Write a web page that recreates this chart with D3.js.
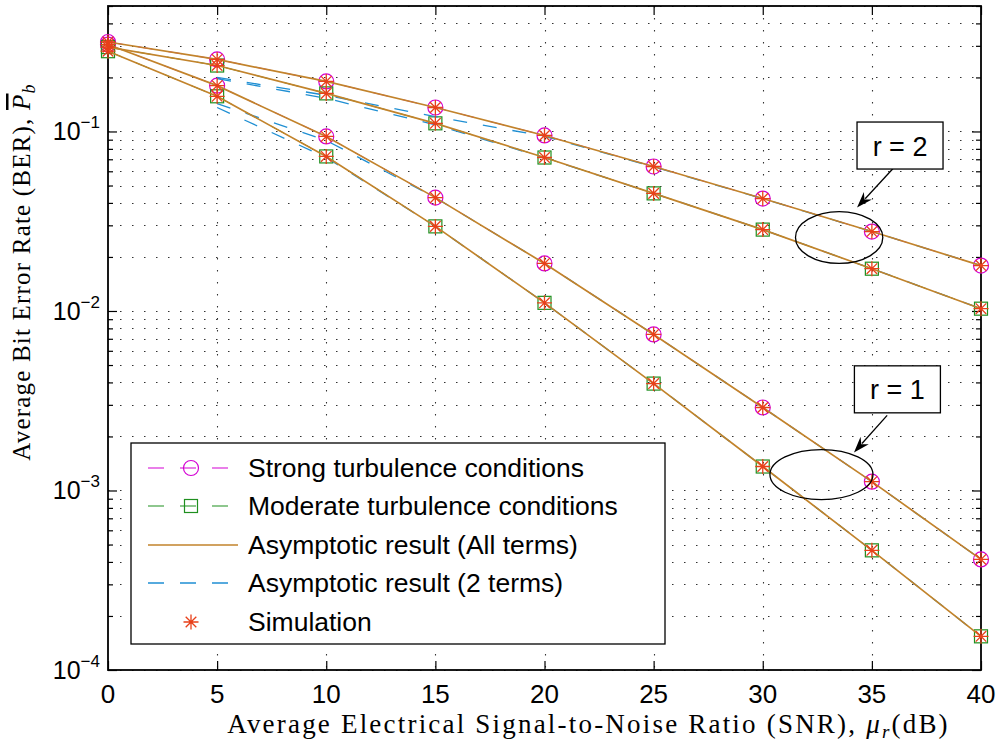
<!DOCTYPE html>
<html><head><meta charset="utf-8">
<script src="https://cdn.jsdelivr.net/npm/d3@7"></script>
<style>body{margin:0;background:#fff}</style>
</head><body>
<svg id="chart" width="1000" height="745"></svg>
<script>
// SNR points (dB)
const snr = [0, 5, 10, 15, 20, 25, 30, 35, 40];
// exact BER, r = 2
const strongR2 = [0.315, 0.252, 0.190, 0.136, 0.095, 0.0638, 0.0423, 0.0277, 0.0179];
const moderateR2 = [0.295, 0.233, 0.163, 0.111, 0.0716, 0.0452, 0.0284, 0.0172, 0.0103];
// exact BER, r = 1
const strongR1 = [0.305, 0.180, 0.0938, 0.0428, 0.0184, 0.0074, 0.0029, 0.00112, 0.000413];
const moderateR1 = [0.28, 0.157, 0.0726, 0.0296, 0.0111, 0.00394, 0.00136, 0.000464, 0.000154];
// two-term asymptotic approximation, starting at 5 dB
const snr2 = [5, 10, 15, 20, 25, 30, 35, 40];
const twoStrongR2 = [0.200, 0.159, 0.121, 0.094, 0.0636, 0.0422, 0.0277, 0.0179];
const twoModerateR2 = [0.197, 0.153, 0.109, 0.0714, 0.0452, 0.0284, 0.0172, 0.0103];
const twoStrongR1 = [0.143, 0.0891, 0.0428, 0.0184, 0.0074, 0.0029, 0.00112, 0.000413];
const twoModerateR1 = [0.136, 0.0716, 0.0296, 0.0111, 0.00394, 0.00136, 0.000464, 0.000154];
// axis ticks
const xTicks = [0, 5, 10, 15, 20, 25, 30, 35, 40];
const yMajor = [1e-4, 1e-3, 1e-2, 1e-1];
const yExp = ["−4", "−3", "−2", "−1"];
// legend entries
const legendLabels = ["Strong turbulence conditions", "Moderate turbulence conditions",
  "Asymptotic result (All terms)", "Asymptotic result (2 terms)", "Simulation"];
// annotations: label, box centre, arrow tail/head, ellipse extents
const notes = [
  {text: "r = 2", cx: 36.29, cy: 0.0835, tail: [35.97, 0.0622], head: [34.32, 0.0377],
   ex: [31.5, 35.5], ey: [0.0358, 0.0184]},
  {text: "r = 1", cx: 36.17, cy: 0.00366, tail: [35.7, 0.00262], head: [34.18, 0.00163],
   ex: [30.33, 35.05], ey: [0.00169, 0.00089]}
];

const C = {strong: "#d400d4", moderate: "#1f8f1f", asym: "#c2832b", two: "#1f8fd3", sim: "#e8401a"};
const svg = d3.select("#chart");
const L = 108, R = 981, T = 6, B = 670;
const x = d3.scaleLinear().domain([0, 40]).range([L, R]);
const y = d3.scaleLog().domain([1e-4, 0.5]).range([B, T]);

const yMinor = [];
for (let e = -4; e <= -1; e++) for (let m = 2; m <= 9; m++) {
  const v = m * Math.pow(10, e);
  if (v <= 0.5 + 1e-9) yMinor.push(v);
}

// dotted grid
const grid = svg.append("g").attr("stroke", "#333").attr("stroke-width", 1.1).attr("stroke-dasharray", "1.5,10.5");
grid.selectAll("line.h").data(yMajor.concat(yMinor)).join("line")
  .attr("x1", L).attr("x2", R).attr("y1", d => Math.round(y(d)) + 0.5).attr("y2", d => Math.round(y(d)) + 0.5);
grid.selectAll("line.v").data(xTicks.slice(1, -1)).join("line")
  .attr("y1", T).attr("y2", B).attr("x1", d => Math.round(x(d)) + 0.5).attr("x2", d => Math.round(x(d)) + 0.5);

// axes ticks (inward)
function styleAxis(g) { g.select(".domain").remove(); g.selectAll("line").attr("stroke", "#000").attr("stroke-width", 1.2); g.selectAll("text").remove(); }
svg.append("g").attr("transform", `translate(0,${B})`).call(d3.axisBottom(x).tickValues(xTicks).tickSize(-9)).call(styleAxis);
svg.append("g").attr("transform", `translate(0,${T})`).call(d3.axisTop(x).tickValues(xTicks).tickSize(-9)).call(styleAxis);
svg.append("g").attr("transform", `translate(${L},0)`).call(d3.axisLeft(y).tickValues(yMajor).tickSize(-9)).call(styleAxis);
svg.append("g").attr("transform", `translate(${R},0)`).call(d3.axisRight(y).tickValues(yMajor).tickSize(-9)).call(styleAxis);
svg.append("g").attr("transform", `translate(${L},0)`).call(d3.axisLeft(y).tickValues(yMinor).tickSize(-5)).call(styleAxis);
svg.append("g").attr("transform", `translate(${R},0)`).call(d3.axisRight(y).tickValues(yMinor).tickSize(-5)).call(styleAxis);

// frame
svg.append("rect").attr("x", L).attr("y", T).attr("width", R - L).attr("height", B - T)
  .attr("fill", "none").attr("stroke", "#000").attr("stroke-width", 1.8);

// tick labels
svg.append("g").selectAll("text").data(xTicks).join("text")
  .attr("x", d => x(d)).attr("y", B + 33).attr("text-anchor", "middle")
  .attr("font-family", "Liberation Sans, Arial, sans-serif").attr("font-size", 26).text(d => d);
const yl = svg.append("g").selectAll("text").data(yMajor).join("text")
  .attr("x", 100).attr("y", d => y(d) + 9).attr("text-anchor", "end")
  .attr("font-family", "Liberation Sans, Arial, sans-serif").attr("font-size", 25);
yl.append("tspan").text("10");
yl.append("tspan").attr("dy", -12).attr("font-size", 17).text((d, i) => yExp[i]);

// axis titles
const xt = svg.append("text").attr("x", (L + R) / 2 + 44).attr("y", 733).attr("text-anchor", "middle")
  .attr("font-family", "Liberation Serif, Times New Roman, serif").attr("font-size", 27).attr("letter-spacing", 2.2);
xt.append("tspan").text("Average Electrical Signal-to-Noise Ratio (SNR), ");
xt.append("tspan").attr("font-style", "italic").text("μ");
xt.append("tspan").attr("font-style", "italic").attr("font-size", 19).attr("dy", 5).text("r");
xt.append("tspan").attr("dy", -5).text("(dB)");

const ytl = svg.append("text").attr("transform", "translate(30,272) rotate(-90)").attr("text-anchor", "middle")
  .attr("font-family", "Liberation Serif, Times New Roman, serif").attr("font-size", 25).attr("letter-spacing", 1.2);
ytl.append("tspan").text("Average Bit Error Rate (BER), ");
ytl.append("tspan").attr("font-style", "italic").style("text-decoration", "overline").text("P");
ytl.append("tspan").attr("font-style", "italic").attr("font-size", 18).attr("dy", 5).text("b");

// series
const line = d3.line().x(d => x(d[0])).y(d => y(d[1]));
const zip = (xs, ys) => xs.map((v, i) => [v, ys[i]]);
const plot = svg.append("g");

const exact = [
  {vals: strongR2, c: C.strong, m: "o"}, {vals: strongR1, c: C.strong, m: "o"},
  {vals: moderateR2, c: C.moderate, m: "s"}, {vals: moderateR1, c: C.moderate, m: "s"}
];
exact.forEach(s => {
  plot.append("path").datum(zip(snr, s.vals)).attr("d", line).attr("fill", "none")
    .attr("stroke", s.c).attr("stroke-width", 1).attr("stroke-dasharray", "15,15");
});
// markers
exact.forEach(s => {
  const pts = zip(snr, s.vals);
  if (s.m === "o") {
    plot.append("g").selectAll("circle").data(pts).join("circle")
      .attr("cx", d => x(d[0])).attr("cy", d => y(d[1])).attr("r", 7.5)
      .attr("fill", "none").attr("stroke", s.c).attr("stroke-width", 1.2);
  } else {
    plot.append("g").selectAll("rect").data(pts).join("rect")
      .attr("x", d => x(d[0]) - 6.5).attr("y", d => y(d[1]) - 6.5).attr("width", 13).attr("height", 13)
      .attr("fill", "none").attr("stroke", s.c).attr("stroke-width", 1.2);
  }
});
// asymptotic (2 terms), underneath the full asymptotic curves
[twoStrongR2, twoModerateR2, twoStrongR1, twoModerateR1].forEach(v => {
  plot.append("path").datum(zip(snr2, v)).attr("d", line).attr("fill", "none")
    .attr("stroke", C.two).attr("stroke-width", 1.3).attr("stroke-dasharray", "14,16");
});
// asymptotic (all terms)
[strongR2, moderateR2, strongR1, moderateR1].forEach(v => {
  plot.append("path").datum(zip(snr, v)).attr("d", line).attr("fill", "none")
    .attr("stroke", C.asym).attr("stroke-width", 1.7);
});
// simulation asterisks
function star(g, cx, cy, r) {
  const p = [];
  for (let k = 0; k < 4; k++) {
    const a = k * Math.PI / 4;
    p.push(`M${cx - r * Math.cos(a)},${cy - r * Math.sin(a)}L${cx + r * Math.cos(a)},${cy + r * Math.sin(a)}`);
  }
  g.append("path").attr("d", p.join("")).attr("stroke", C.sim).attr("stroke-width", 1.3).attr("fill", "none");
}
[strongR2, moderateR2, strongR1, moderateR1].forEach(v => {
  zip(snr, v).forEach(d => star(plot, x(d[0]), y(d[1]), 7.5));
});

// annotations
notes.forEach(n => {
  const ex0 = x(n.ex[0]), ex1 = x(n.ex[1]), ey0 = y(n.ey[0]), ey1 = y(n.ey[1]);
  svg.append("ellipse").attr("cx", (ex0 + ex1) / 2).attr("cy", (ey0 + ey1) / 2)
    .attr("rx", (ex1 - ex0) / 2).attr("ry", (ey1 - ey0) / 2)
    .attr("fill", "none").attr("stroke", "#000").attr("stroke-width", 1.3);
  const tx = x(n.tail[0]), ty = y(n.tail[1]), hx = x(n.head[0]), hy = y(n.head[1]);
  const ang = Math.atan2(hy - ty, hx - tx), len = 16, wid = 5.5;
  const bx = hx - len * Math.cos(ang), by = hy - len * Math.sin(ang);
  svg.append("line").attr("x1", tx).attr("y1", ty).attr("x2", bx + 4 * Math.cos(ang)).attr("y2", by + 4 * Math.sin(ang))
    .attr("stroke", "#000").attr("stroke-width", 1.3);
  const px = -Math.sin(ang), py = Math.cos(ang);
  svg.append("path").attr("d", `M${hx},${hy}L${bx + wid * px},${by + wid * py}L${bx + 5 * Math.cos(ang)},${by + 5 * Math.sin(ang)}L${bx - wid * px},${by - wid * py}Z`)
    .attr("fill", "#000");
  const cx = x(n.cx), cy = y(n.cy);
  svg.append("rect").attr("x", cx - 43).attr("y", cy - 23.5).attr("width", 86).attr("height", 47)
    .attr("fill", "#fff").attr("stroke", "#000").attr("stroke-width", 1.3);
  svg.append("text").attr("x", cx).attr("y", cy + 10).attr("text-anchor", "middle")
    .attr("font-family", "Liberation Sans, Arial, sans-serif").attr("font-size", 27).text(n.text);
});

// legend
const lg = svg.append("g");
lg.append("rect").attr("x", 131).attr("y", 443).attr("width", 534).attr("height", 201)
  .attr("fill", "#fff").attr("stroke", "#000").attr("stroke-width", 1.3);
const rowY = [468, 506, 545, 583, 622];
const lx0 = 148, lx1 = 228, mx = 191;
// strong
lg.append("line").attr("x1", lx0).attr("x2", lx1).attr("y1", rowY[0]).attr("y2", rowY[0])
  .attr("stroke", C.strong).attr("stroke-width", 1.2).attr("stroke-dasharray", "16,16");
lg.append("circle").attr("cx", mx).attr("cy", rowY[0]).attr("r", 7.5).attr("fill", "none").attr("stroke", C.strong).attr("stroke-width", 1.2);
// moderate
lg.append("line").attr("x1", lx0).attr("x2", lx1).attr("y1", rowY[1]).attr("y2", rowY[1])
  .attr("stroke", C.moderate).attr("stroke-width", 1.2).attr("stroke-dasharray", "16,16");
lg.append("rect").attr("x", mx - 6.5).attr("y", rowY[1] - 6.5).attr("width", 13).attr("height", 13).attr("fill", "none").attr("stroke", C.moderate).attr("stroke-width", 1.2);
// all terms
lg.append("line").attr("x1", lx0).attr("x2", 238).attr("y1", rowY[2]).attr("y2", rowY[2])
  .attr("stroke", C.asym).attr("stroke-width", 1.5);
// 2 terms
lg.append("line").attr("x1", lx0).attr("x2", lx1).attr("y1", rowY[3]).attr("y2", rowY[3])
  .attr("stroke", C.two).attr("stroke-width", 1.3).attr("stroke-dasharray", "16,16");
// simulation
star(lg, mx, rowY[4], 7.5);
lg.selectAll("text").data(legendLabels).join("text")
  .attr("x", 248).attr("y", (d, i) => rowY[i] + 9)
  .attr("font-family", "Liberation Sans, Arial, sans-serif").attr("font-size", 26.5).text(d => d);
</script>
</body></html>
